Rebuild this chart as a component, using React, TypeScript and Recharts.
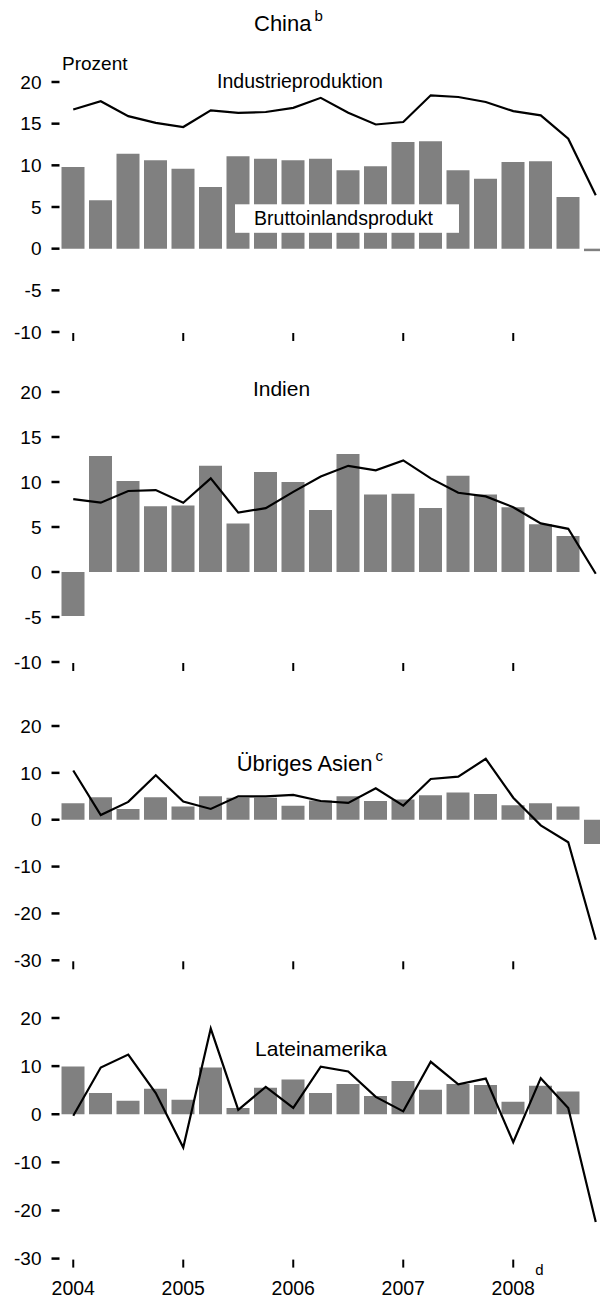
import React from 'react';
import { ComposedChart, Bar, Line, XAxis, YAxis } from 'recharts';

// quarters 2004Q1 .. 2008Q4
const quarters = [
  '2004Q1', '2004Q2', '2004Q3', '2004Q4',
  '2005Q1', '2005Q2', '2005Q3', '2005Q4',
  '2006Q1', '2006Q2', '2006Q3', '2006Q4',
  '2007Q1', '2007Q2', '2007Q3', '2007Q4',
  '2008Q1', '2008Q2', '2008Q3', '2008Q4'
];
const yearLabels = ['2004', '2005', '2006', '2007', '2008'];
const yearSup: Record<string, string> = { '2008': 'd' };

// Bruttoinlandsprodukt (bars) / Industrieproduktion (line), Prozent
const chinaGdp = [9.8, 5.8, 11.4, 10.6, 9.6, 7.4, 11.1, 10.8, 10.6, 10.8, 9.4, 9.9, 12.8, 12.9, 9.4, 8.4, 10.4, 10.5, 6.2, -0.3];
const chinaIp = [16.7, 17.7, 15.9, 15.1, 14.6, 16.6, 16.3, 16.4, 16.9, 18.1, 16.3, 14.9, 15.2, 18.4, 18.2, 17.6, 16.5, 16.0, 13.2, 6.4];

const indiaGdp = [-4.9, 12.9, 10.1, 7.3, 7.4, 11.8, 5.4, 11.1, 10.0, 6.9, 13.1, 8.6, 8.7, 7.1, 10.7, 8.6, 7.2, 5.3, 4.0, null];
const indiaIp = [8.1, 7.7, 9.0, 9.1, 7.7, 10.4, 6.6, 7.1, 8.9, 10.6, 11.8, 11.3, 12.4, 10.4, 8.8, 8.4, 7.2, 5.4, 4.8, -0.2];

const asiaGdp = [3.5, 4.8, 2.3, 4.8, 2.8, 5.0, 4.7, 4.7, 3.0, 4.1, 5.0, 4.0, 4.3, 5.2, 5.8, 5.5, 3.1, 3.5, 2.8, -5.2];
const asiaIp = [10.5, 1.0, 3.8, 9.5, 3.9, 2.3, 5.0, 5.0, 5.3, 4.0, 3.6, 6.7, 3.0, 8.7, 9.2, 13.0, 4.7, -1.2, -4.8, -25.6];

const latamGdp = [9.9, 4.4, 2.8, 5.3, 3.0, 9.7, 1.3, 5.5, 7.2, 4.4, 6.3, 3.8, 6.9, 5.1, 6.3, 6.1, 2.6, 5.9, 4.7, null];
const latamIp = [-0.3, 9.7, 12.4, 4.4, -6.9, 17.8, 0.9, 5.7, 1.3, 9.9, 8.9, 3.6, 0.6, 10.9, 6.2, 7.4, -5.8, 7.5, 1.3, -22.4];

const ticksSmall = [-10, -5, 0, 5, 10, 15, 20];
const ticksLarge = [-30, -20, -10, 0, 10, 20];

const FONT = "'Liberation Sans', Arial, sans-serif";
const BAR_COLOR = '#808080';

const build = (gdp: (number | null)[], ip: number[]) =>
  quarters.map((q, i) => ({ q, gdp: gdp[i], ip: ip[i] }));

const YTick = (props: any) => {
  const { x, y, payload } = props;
  return (
    <g>
      <line x1={x - 8} x2={x} y1={y} y2={y} stroke="#000" strokeWidth={2.5} />
      <text x={x - 18} y={y} dy="0.35em" textAnchor="end" fontFamily={FONT} fontSize={19} fill="#000">
        {payload.value}
      </text>
    </g>
  );
};

const makeXTick = (showLabels: boolean) => (props: any) => {
  const { x, y, payload } = props;
  const q: string = payload.value;
  if (!q.endsWith('Q1')) return <g />;
  const year = yearLabels.find((yl) => q.startsWith(yl)) || '';
  const sup = yearSup[year];
  return (
    <g>
      <line x1={x} x2={x} y1={y + 1} y2={y + 9} stroke="#000" strokeWidth={2} />
      {showLabels && (
        <text x={x} y={y + 36} textAnchor="middle" fontFamily={FONT} fontSize={19.5} fill="#000">
          {year}
        </text>
      )}
      {showLabels && sup && (
        <text x={x + 22} y={y + 16} textAnchor="start" fontFamily={FONT} fontSize={15} fill="#000">
          {sup}
        </text>
      )}
    </g>
  );
};

interface PanelProps {
  top: number;
  plotHeight: number;
  data: any[];
  domain: [number, number];
  ticks: number[];
  showLabels?: boolean;
}

const Panel = ({ top, plotHeight, data, domain, ticks, showLabels = false }: PanelProps) => {
  const xh = showLabels ? 45 : 15;
  return (
    <div style={{ position: 'absolute', left: 0, top }}>
      <ComposedChart
        width={601.5}
        height={plotHeight + 10 + xh}
        data={data}
        margin={{ top: 10, right: 0, bottom: 0, left: 0 }}
      >
        <XAxis
          dataKey="q"
          axisLine={false}
          tickLine={false}
          tickSize={0}
          tickMargin={0}
          interval={0}
          height={xh}
          tick={makeXTick(showLabels)}
        />
        <YAxis
          type="number"
          domain={domain}
          ticks={ticks}
          allowDataOverflow
          axisLine={false}
          tickLine={false}
          tickSize={0}
          tickMargin={0}
          width={51.5}
          tick={<YTick />}
        />
        <Bar dataKey="gdp" fill={BAR_COLOR} barSize={23} isAnimationActive={false} />
        <Line
          type="linear"
          dataKey="ip"
          stroke="#000"
          strokeWidth={2.2}
          dot={false}
          activeDot={false}
          isAnimationActive={false}
        />
      </ComposedChart>
    </div>
  );
};

export default function App() {
  return (
    <div style={{ position: 'relative', width: 600, height: 1291, overflow: 'hidden', background: '#fff' }}>
      <Panel top={63.7} plotHeight={250} data={build(chinaGdp, chinaIp)} domain={[-10, 20]} ticks={ticksSmall} />
      <Panel top={374.3} plotHeight={270} data={build(indiaGdp, indiaIp)} domain={[-10, 20]} ticks={ticksSmall} />
      <Panel top={707.7} plotHeight={234.3} data={build(asiaGdp, asiaIp)} domain={[-30, 20]} ticks={ticksLarge} />
      <Panel top={999.7} plotHeight={240.6} data={build(latamGdp, latamIp)} domain={[-30, 20]} ticks={ticksLarge} showLabels />

      <svg
        width={600}
        height={1291}
        style={{ position: 'absolute', left: 0, top: 0, pointerEvents: 'none' }}
        fontFamily={FONT}
      >
        <text x={246} y={23} fontSize={22} fill="#000">
          China<tspan fontSize={15} dx={3} dy={-10}>b</tspan>
        </text>
        <text x={54} y={62} fontSize={19} fill="#000">Prozent</text>
        <text x={292} y={80} fontSize={19.5} textAnchor="middle" fill="#000">Industrieproduktion</text>
        <rect x={227} y={196.3} width={224} height={28.5} fill="#fff" />
        <text x={335.5} y={217} fontSize={19.5} textAnchor="middle" fill="#000">Bruttoinlandsprodukt</text>

        <text x={273.5} y={388} fontSize={21} textAnchor="middle" fill="#000">Indien</text>

        <text x={228.7} y={763} fontSize={22} fill="#000">
          Übriges Asien<tspan fontSize={15} dx={3} dy={-10}>c</tspan>
        </text>

        <text x={313} y={1048} fontSize={21} textAnchor="middle" fill="#000">Lateinamerika</text>
      </svg>
    </div>
  );
}
